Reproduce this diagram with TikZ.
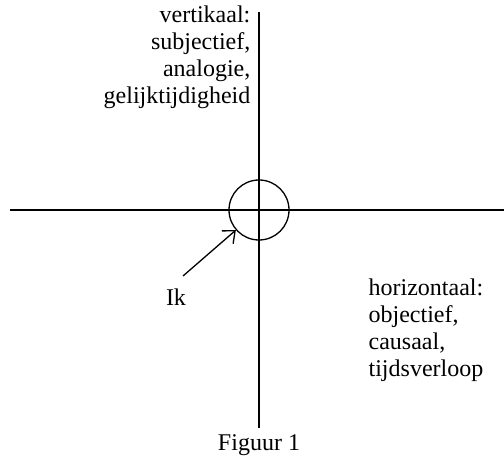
\documentclass[tikz,border=0pt]{standalone}
\usepackage{fontspec}
\setmainfont{Liberation Serif}
\usetikzlibrary{arrows.meta}

\begin{document}
\begin{tikzpicture}[x=1pt,y=-1pt,line width=1.3pt,
    lbl/.style={inner sep=0pt,font=\fontsize{24}{27}\selectfont}]
  \useasboundingbox (0,0) rectangle (504,457);
  % assen
  \coordinate (top) at (259,12);
  \coordinate (bottom) at (259,428);
  \coordinate (left) at (10,210);
  \coordinate (right) at (504,210);
  \draw (top) -- (bottom);
  \draw (left) -- (right);
  \node[circle,draw,minimum size=60pt,inner sep=0pt] (ik) at (259,210) {};
  % teksten
  \node[lbl,align=right,anchor=north east] (vert) at (251,5) {vertikaal:\\subjectief,\\analogie,\\gelijktijdigheid};
  \node[lbl,align=left,anchor=north west] (hor) at (368,278) {horizontaal:\\objectief,\\causaal,\\tijdsverloop};
  \node[lbl] (iklbl) at (176,297) {Ik};
  \node[lbl] (fig) at (259,445) {Figuur 1};
  % pijl
  \coordinate (start) at (183,276);
  \draw[-{Straight Barb[length=10pt,width=17pt]}] (start) -- (ik);
\end{tikzpicture}
\end{document}
